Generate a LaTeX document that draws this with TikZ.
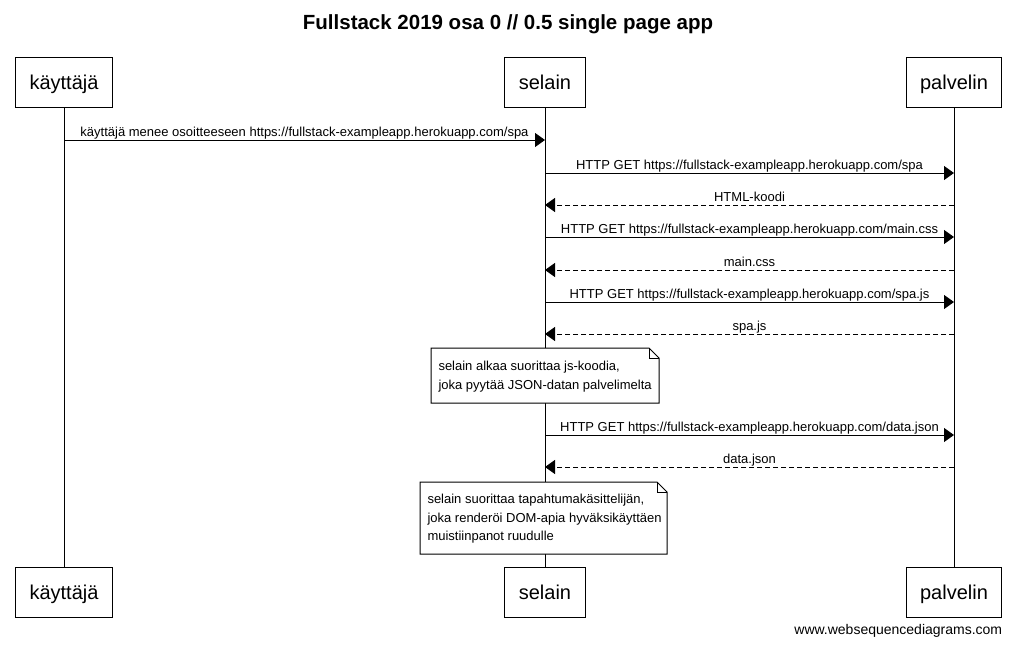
\documentclass[tikz,border=0pt]{standalone}
\usepackage{fontspec}
\setmainfont{Liberation Sans}
\usetikzlibrary{arrows.meta}
\tikzset{
  x=1pt,y=-1pt,
  every path/.style={line width=1pt},
  actor/.style={draw, line width=1pt, minimum height=50pt, inner xsep=14pt, text height=15pt, text depth=0pt, font=\fontsize{20}{24}\selectfont},
  msg/.style={-{Triangle[length=10pt,width=14pt]}},
  reply/.style={-{Triangle[length=10pt,width=14pt]}, dash pattern=on 5pt off 3pt},
  lbl/.style={font=\fontsize{13}{15}\selectfont, inner sep=0pt, text height=9.5pt, text depth=3pt},
  notetext/.style={font=\fontsize{13}{18.5}\selectfont, align=left, inner sep=0pt, anchor=north west},
  note/.style={draw, fill=white, line width=1pt},
}
\begin{document}
\begin{tikzpicture}
\useasboundingbox (0,0) rectangle (1015,645);
\node[font=\fontsize{20.5}{24}\selectfont\bfseries] (title) at (508,24) {Fullstack 2019 osa 0 // 0.5 single page app};

\node[actor] (kt) at (64,82) {käyttäjä};
\node[actor] (st) at (545,82) {selain};
\node[actor] (pt) at (954,82) {palvelin};
\node[actor] (kb) at (64,592) {käyttäjä};
\node[actor] (sb) at (545,592) {selain};
\node[actor] (pb) at (954,592) {palvelin};

\draw (kt) -- (kb);
\draw (st) -- (sb);
\draw (pt) -- (pb);

% message coordinates
\coordinate (k1) at (64,140);  \coordinate (s1) at (545,140);
\coordinate (s2) at (545,173); \coordinate (p2) at (954,173);
\coordinate (s3) at (545,205); \coordinate (p3) at (954,205);
\coordinate (s4) at (545,237); \coordinate (p4) at (954,237);
\coordinate (s5) at (545,270); \coordinate (p5) at (954,270);
\coordinate (s6) at (545,302); \coordinate (p6) at (954,302);
\coordinate (s7) at (545,334); \coordinate (p7) at (954,334);
\coordinate (s8) at (545,435); \coordinate (p8) at (954,435);
\coordinate (s9) at (545,467); \coordinate (p9) at (954,467);

\draw[msg] (k1) -- node[lbl, midway, above=0.5pt] (m1) {käyttäjä menee osoitteeseen https://fullstack-exampleapp.herokuapp.com/spa} (s1);
\draw[msg] (s2) -- node[lbl, midway, above=0.5pt] (m2) {HTTP GET https://fullstack-exampleapp.herokuapp.com/spa} (p2);
\draw[reply] (p3) -- node[lbl, midway, above=0.5pt] (m3) {HTML-koodi} (s3);
\draw[msg] (s4) -- node[lbl, midway, above=0.5pt] (m4) {HTTP GET https://fullstack-exampleapp.herokuapp.com/main.css} (p4);
\draw[reply] (p5) -- node[lbl, midway, above=0.5pt] (m5) {main.css} (s5);
\draw[msg] (s6) -- node[lbl, midway, above=0.5pt] (m6) {HTTP GET https://fullstack-exampleapp.herokuapp.com/spa.js} (p6);
\draw[reply] (p7) -- node[lbl, midway, above=0.5pt] (m7) {spa.js} (s7);
\draw[msg] (s8) -- node[lbl, midway, above=0.5pt] (m8) {HTTP GET https://fullstack-exampleapp.herokuapp.com/data.json} (p8);
\draw[reply] (p9) -- node[lbl, midway, above=0.5pt] (m9) {data.json} (s9);

% note 1
\draw[note] (431,348) -- (649,348) -- (659,358) -- (659,403) -- (431,403) -- cycle;
\draw (649,348) -- (649,358) -- (659,358);
\node[notetext] (n1) at (438,361) {selain alkaa suorittaa js-koodia,\\joka pyytää JSON-datan palvelimelta};

% note 2
\draw[note] (420,482) -- (657,482) -- (667,492) -- (667,554) -- (420,554) -- cycle;
\draw (657,482) -- (657,492) -- (667,492);
\node[notetext] (n2) at (427,494) {selain suorittaa tapahtumakäsittelijän,\\joka renderöi DOM-apia hyväksikäyttäen\\muistiinpanot ruudulle};

\node[font=\fontsize{14}{16}\selectfont, anchor=east] (wsd) at (1006,631) {www.websequencediagrams.com};
\end{tikzpicture}
\end{document}
